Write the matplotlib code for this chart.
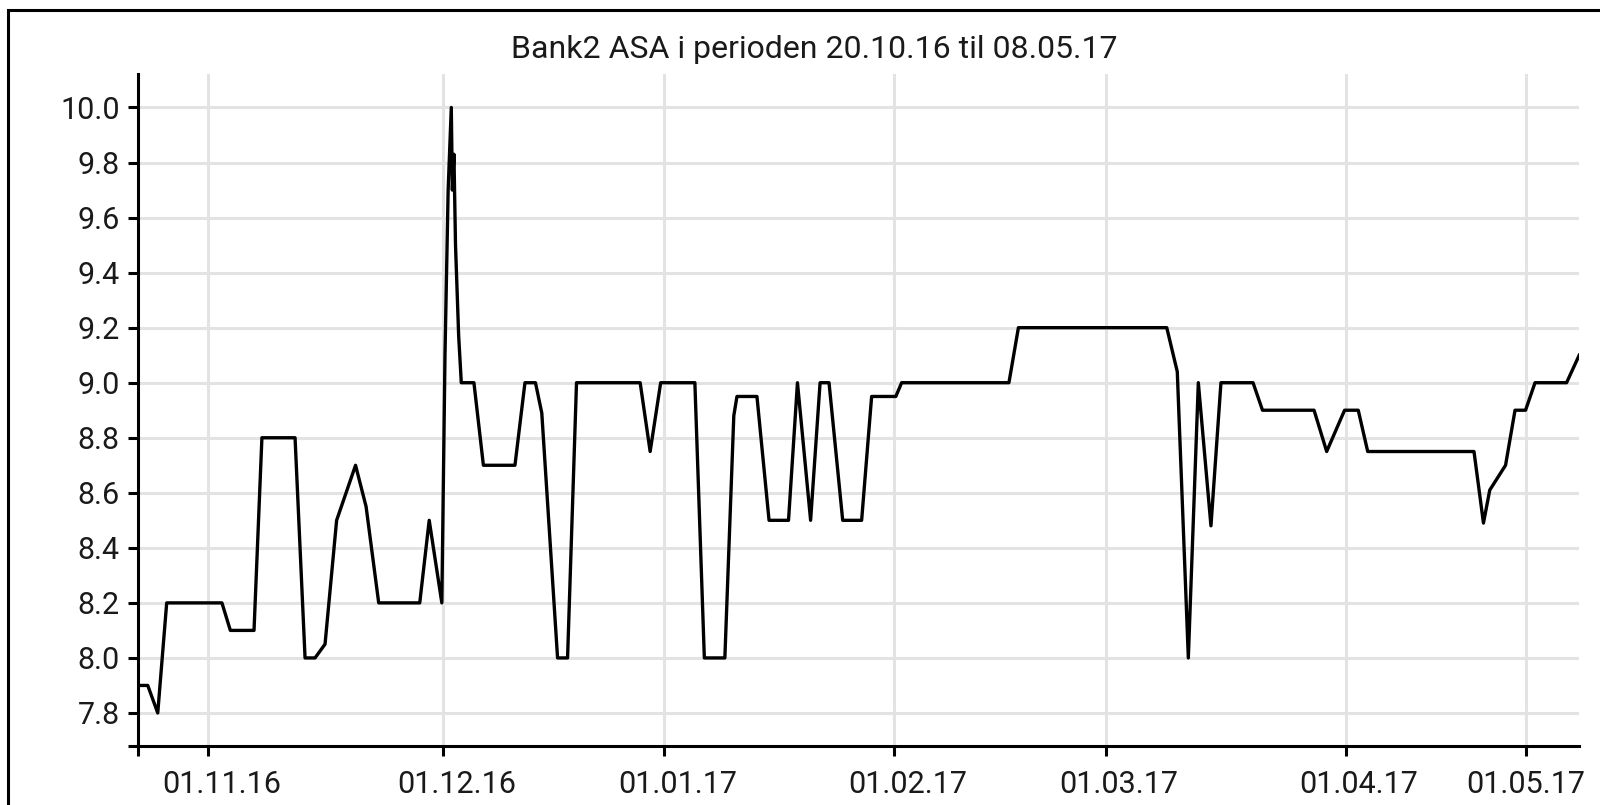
import matplotlib
matplotlib.use("Agg")
import matplotlib.pyplot as plt
import matplotlib.transforms as mtransforms
from matplotlib.patches import Rectangle

# price path (x = trading-day position from first point)
day = [0.0, 0.95, 1.9, 2.75, 8.0, 8.8, 11.05, 11.8, 14.95, 15.9,
       16.85, 17.8, 18.9, 20.7, 21.7, 22.9, 26.8, 27.7, 28.9, 29.2,
       29.5, 29.8, 29.9, 30.05, 30.2, 30.5, 30.75, 31.95, 32.85, 35.85,
       36.8, 37.8, 38.4, 39.9, 40.85, 41.7, 47.75, 48.7, 49.7, 52.95,
       53.85, 55.8, 56.65, 56.95, 58.85, 60.0, 61.85, 62.7, 63.95, 64.85,
       65.7, 67.0, 68.8, 69.75, 72.05, 72.6, 82.8, 83.7, 97.8, 98.8,
       99.85, 100.8, 102.0, 102.95, 106.0, 106.9, 111.8, 113.0, 114.7, 116.0,
       116.9, 127.0, 127.9, 128.5, 130.0, 130.9, 131.9, 132.8, 135.8, 137.0]
price = [7.90, 7.90, 7.80, 8.20, 8.20, 8.10, 8.10, 8.80, 8.80, 8.00,
         8.00, 8.05, 8.50, 8.70, 8.55, 8.20, 8.20, 8.50, 8.20, 9.10,
         9.70, 10.00, 9.70, 9.83, 9.50, 9.17, 9.00, 9.00, 8.70, 8.70,
         9.00, 9.00, 8.89, 8.00, 8.00, 9.00, 9.00, 8.75, 9.00, 9.00,
         8.00, 8.00, 8.88, 8.95, 8.95, 8.50, 8.50, 9.00, 8.50, 9.00,
         9.00, 8.50, 8.50, 8.95, 8.95, 9.00, 9.00, 9.20, 9.20, 9.04,
         8.00, 9.00, 8.48, 9.00, 9.00, 8.90, 8.90, 8.75, 8.90, 8.90,
         8.75, 8.75, 8.49, 8.61, 8.70, 8.90, 8.90, 9.00, 9.00, 9.10]

month_pos = [6.7, 29.0, 50.0, 71.9, 92.0, 114.8, 131.9]
month_labels = ["01.11.16", "01.12.16", "01.01.17", "01.02.17",
                "01.03.17", "01.04.17", "01.05.17"]
y_ticks = [7.8, 8.0, 8.2, 8.4, 8.6, 8.8, 9.0, 9.2, 9.4, 9.6, 9.8, 10.0]

title = "Bank2 ASA i perioden 20.10.16 til 08.05.17"

plt.rcParams['font.family'] = ['Roboto', 'DejaVu Sans']

fig = plt.figure(figsize=(16, 8.05), dpi=100)
ax = fig.add_axes([0.0861, 0.0733, 0.9009, 0.8342])

ax.plot(day, price, color="black", lw=2.4, zorder=3)

ax.set_xlim(0, 137)
ax.set_ylim(7.68, 10.12)

ax.set_xticks(month_pos)
ax.set_xticklabels(month_labels)
ax.set_yticks(y_ticks)
ax.set_yticklabels([f"{v:.1f}" for v in y_ticks])
# end ticks at the axis origin, as in the original
ax.set_xticks([0], minor=True)
ax.set_yticks([7.68], minor=True)

for side in ["top", "right"]:
    ax.spines[side].set_visible(False)
for side in ["left", "bottom"]:
    ax.spines[side].set_linewidth(2.2)

ax.tick_params(which="both", length=7, width=2.2, color="black",
               labelsize=22, labelcolor="#1a1a1a")
ax.tick_params(axis="x", pad=10)
ax.tick_params(axis="y", pad=6)

# the date labels sit a little right of their ticks (last one kept inside)
shift = mtransforms.ScaledTranslation(0.135, 0, fig.dpi_scale_trans)
for lab in ax.get_xticklabels()[:-1]:
    lab.set_transform(lab.get_transform() + shift)

ax.grid(True, color="#e3e3e3", lw=2.2, zorder=0)
ax.grid(False, which="minor")
ax.set_axisbelow(True)

fig.text(0.509, 0.938, title, ha="center", va="center",
         fontsize=23, color="#1a1a1a")

fig.patches.append(Rectangle((8 / 1600, -0.1), 1.2, (795 / 805) + 0.1,
                             transform=fig.transFigure, fill=False,
                             edgecolor="black", lw=2.2))

fig.savefig("out.png", dpi=100)
